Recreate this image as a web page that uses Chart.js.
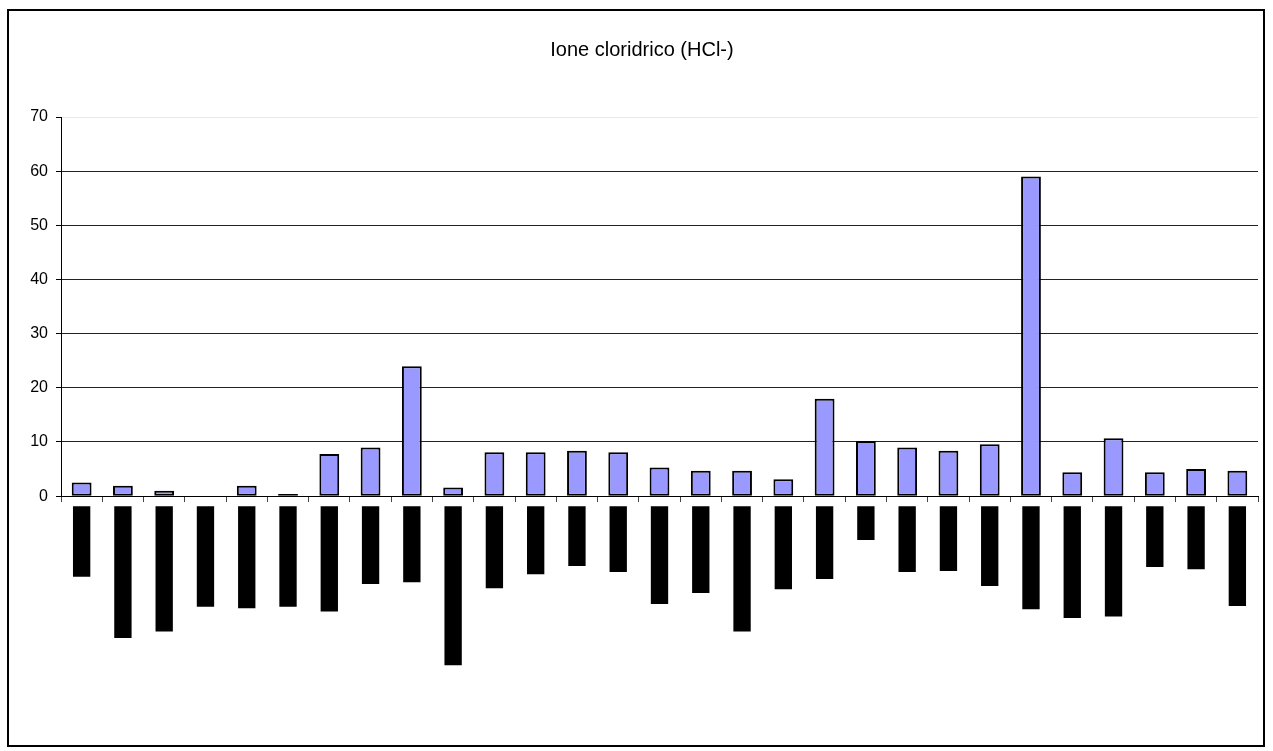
<!DOCTYPE html>
<html><head><meta charset="utf-8">
<script src="https://cdn.jsdelivr.net/npm/chart.js@4.4.0/dist/chart.umd.min.js"></script>
<style>
html,body{margin:0;padding:0;background:#fff;}
#frame{position:absolute;left:7px;top:9px;width:1254px;height:734px;border:2px solid #000;}
#wrap{position:absolute;left:0;top:0;width:1273px;height:751px;}
</style></head><body>
<div id="frame"></div>
<div id="wrap"><canvas id="c" width="1273" height="751"></canvas></div>
<script>
const chartTitle = 'Ione cloridrico (HCl-)';
const categories = ['1','2','3','4','5','6','7','8','9','10','11','12','13','14','15','16','17','18','19','20','21','22','23','24','25','26','27','28','29'];
const hclValues = [2.5,1.9,1.0,0,1.9,0.4,7.8,9.0,24,1.6,8.1,8.1,8.4,8.1,5.3,4.7,4.7,3.1,18,10.2,9.0,8.4,9.6,59,4.4,10.7,4.4,5.0,4.7];
const labelDepths = [14.9,26.2,25.0,20.4,20.7,20.4,21.3,16.2,15.9,31.2,17.0,14.4,12.9,14.0,19.9,17.9,25.0,17.2,15.3,8.1,14.0,13.8,16.6,20.9,22.5,22.2,13.1,13.5,20.3];
const yTickMin = 0, yTickMax = 70, yTickStep = 10;
const labelGap = 1.85;
const lowerMin = -43.8;

Chart.defaults.font.family = "'Liberation Sans', Arial, sans-serif";
Chart.defaults.color = '#000';

new Chart(document.getElementById('c'), {
  type: 'bar',
  data: {
    labels: categories,
    datasets: [
      {
        data: hclValues,
        yAxisID: 'y',
        backgroundColor: '#9999FF',
        borderColor: '#000',
        borderWidth: 2,
        borderSkipped: false,
        grouped: false,
        categoryPercentage: 1,
        barPercentage: 0.48
      },
      {
        data: labelDepths.map(d => [-labelGap, -d]),
        yAxisID: 'y2',
        backgroundColor: '#000',
        borderWidth: 0,
        grouped: false,
        categoryPercentage: 1,
        barPercentage: 0.42
      }
    ]
  },
  options: {
    responsive: false,
    animation: false,
    devicePixelRatio: 1,
    layout: { padding: { left: 26, right: 15, top: 0, bottom: 0 } },
    plugins: {
      legend: { display: false },
      tooltip: { enabled: false },
      title: {
        display: true,
        text: chartTitle,
        color: '#000',
        font: { size: 20, weight: 'normal' },
        padding: { top: 38, bottom: 55 }
      }
    },
    scales: {
      x: {
        type: 'category',
        position: { y: 0 },
        offset: true,
        ticks: { display: false },
        grid: { display: true, offset: true, drawOnChartArea: false, tickLength: 5, tickColor: '#444' },
        border: { display: true, color: '#000', width: 1 }
      },
      y: {
        stack: 'v',
        stackWeight: yTickMax - yTickMin,
        weight: 1,
        position: 'left',
        min: yTickMin,
        max: yTickMax,
        ticks: { stepSize: yTickStep, color: '#000', font: { size: 16 }, padding: 8 },
        grid: {
          color: ctx => ctx.tick && ctx.tick.value === yTickMax ? '#e8e8e8' : '#222',
          tickColor: '#000',
          tickLength: 5
        },
        border: { display: true, color: '#000', width: 1 },
        afterFit(s) { s.width = 35; }
      },
      y2: {
        stack: 'v',
        stackWeight: -lowerMin,
        weight: 0,
        position: 'left',
        min: lowerMin,
        max: 0,
        display: false
      }
    }
  }
});
</script>
</body></html>
